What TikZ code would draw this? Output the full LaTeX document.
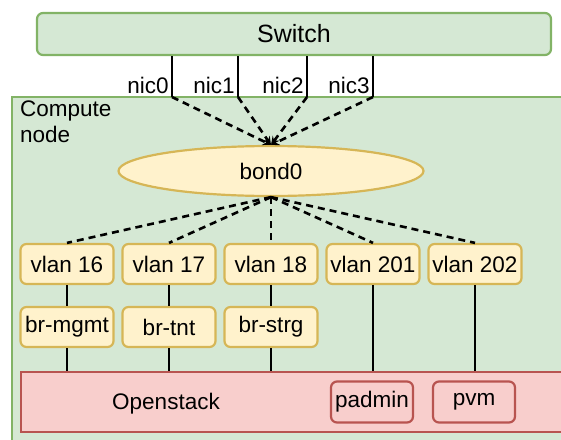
\documentclass[tikz,border=0pt]{standalone}
\usepackage{fontspec}
\setmainfont{Liberation Sans}
\usetikzlibrary{shapes.geometric}

\definecolor{grnfill}{HTML}{D5E8D4}
\definecolor{grnline}{HTML}{82B366}
\definecolor{ylwfill}{HTML}{FFF2CC}
\definecolor{ylwline}{HTML}{D6B656}
\definecolor{redfill}{HTML}{F8CECC}
\definecolor{redline}{HTML}{B85450}

\tikzset{
  grnbox/.style={draw=grnline, fill=grnfill, line width=2.2pt, rounded corners=6pt, inner sep=0pt},
  ylwbox/.style={draw=ylwline, fill=ylwfill, line width=2.2pt, rounded corners=6pt, inner sep=0pt,
                 minimum width=93pt, minimum height=40pt},
  redbox/.style={draw=redline, fill=redfill, line width=2.2pt, rounded corners=6pt, inner sep=0pt},
  link/.style={line width=2.5pt},
  dlink/.style={line width=2.6pt, dash pattern=on 7pt off 5pt},
}

\begin{document}
\begin{tikzpicture}[x=1pt, y=-1pt, font=\fontsize{22.5}{26}\selectfont]

    \clip (0,0) rectangle (561,439);

    % compute node
    \draw [draw=grnline, fill=grnfill, line width=2.2pt] (12,97) rectangle (580,460);
    \node [anchor=north west, align=left, inner sep=0pt] (cnlabel) at (20,101) {Compute\\node};

    % switch
    \node [grnbox, minimum width=514pt, minimum height=42pt, font=\fontsize{25}{28}\selectfont] (switch) at (294,34) {Switch};

    % nics
    \coordinate (nic0) at (172,97);
    \coordinate (nic1) at (238,97);
    \coordinate (nic2) at (307,97);
    \coordinate (nic3) at (373,97);
    \draw [link] (switch.south -| nic0) -- (nic0) node[pos=0.72, left, inner sep=2pt] {nic0};
    \draw [link] (switch.south -| nic1) -- (nic1) node[pos=0.72, left, inner sep=2pt] {nic1};
    \draw [link] (switch.south -| nic2) -- (nic2) node[pos=0.72, left, inner sep=2pt] {nic2};
    \draw [link] (switch.south -| nic3) -- (nic3) node[pos=0.72, left, inner sep=2pt] {nic3};

    % bond
    \node [ellipse, draw=ylwline, fill=ylwfill, line width=2.2pt, inner sep=0pt,
           minimum width=305pt, minimum height=50pt] (bond0) at (271,171) {bond0};

    \draw [dlink, >=stealth, ->] (nic0) -- (bond0.north);
    \draw [dlink, >=stealth, ->] (nic1) -- (bond0.north);
    \draw [dlink, >=stealth, ->] (nic2) -- (bond0.north);
    \draw [dlink, >=stealth, ->] (nic3) -- (bond0.north);

    % vlans
    \node [ylwbox] (vlan16) at (67,264) {vlan 16};
    \node [ylwbox] (vlan17) at (169,264) {vlan 17};
    \node [ylwbox] (vlan18) at (271,264) {vlan 18};
    \node [ylwbox] (vlan201) at (373,264) {vlan 201};
    \node [ylwbox] (vlan202) at (475,264) {vlan 202};

    \draw [dlink] (bond0.south) -- (vlan16.north);
    \draw [dlink] (bond0.south) -- (vlan17.north);
    \draw [dlink] (bond0.south) -- (vlan18.north);
    \draw [dlink] (bond0.south) -- (vlan201.north);
    \draw [dlink] (bond0.south) -- (vlan202.north);

    % bridges
    \node [ylwbox] (brmgmt) at (67,327) {br-mgmt};
    \node [ylwbox] (brtnt) at (169,327) {br-tnt};
    \node [ylwbox] (brstrg) at (271,327) {br-strg};

    \draw [link] (vlan16) -- (brmgmt);
    \draw [link] (vlan17) -- (brtnt);
    \draw [link] (vlan18) -- (brstrg);

    % openstack
    \node [redbox, rounded corners=0pt, minimum width=560pt, minimum height=60pt] (openstack) at (301,402) {};
    \node [inner sep=0pt] (oslabel) at (166,404) {Openstack};
    \node [redbox, minimum width=82pt, minimum height=41pt] (padmin) at (372,402) {padmin};
    \node [redbox, minimum width=82pt, minimum height=41pt] (pvm) at (474,402) {pvm};

    \draw [link] (brmgmt.south) -- (brmgmt.south |- openstack.north);
    \draw [link] (brtnt.south) -- (brtnt.south |- openstack.north);
    \draw [link] (brstrg.south) -- (brstrg.south |- openstack.north);
    \draw [link] (vlan201.south) -- (vlan201.south |- openstack.north);
    \draw [link] (vlan202.south) -- (vlan202.south |- openstack.north);

\end{tikzpicture}
\end{document}
